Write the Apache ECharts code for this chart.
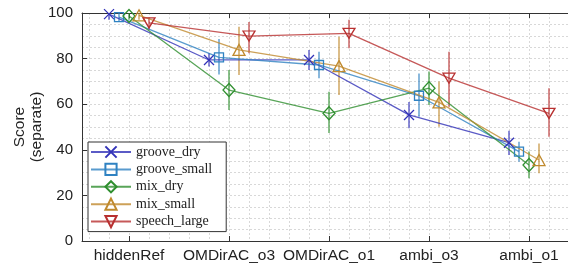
<!DOCTYPE html>
<html>
<head>
<meta charset="utf-8">
<script src="https://cdn.jsdelivr.net/npm/echarts@6/dist/echarts.min.js"></script>
<style>
  html, body { margin: 0; padding: 0; background: #fff; }
  #mycharts { width: 568px; height: 264px; }
</style>
</head>
<body>
<div id="mycharts"></div>
<script>
// categories on the x axis
var categories = ["hiddenRef", "OMDirAC_o3", "OMDirAC_o1", "ambi_o3", "ambi_o1"];
var seriesNames = ["groove_dry", "groove_small", "mix_dry", "mix_small", "speech_large"];

// mean scores per condition
var grooveDry = [99.5, 79.4, 79.4, 55.3, 43.1];
var grooveSmall = [98.2, 80.5, 77.2, 63.7, 39.2];
var mixDry = [98.7, 66.2, 56.0, 67.0, 33.3];
var mixSmall = [99.0, 83.8, 76.7, 60.8, 35.5];
var speechLarge = [95.7, 89.9, 91.1, 71.4, 56.0];

// confidence intervals: lower / upper ends
var grooveDryLow = [97.0, 76.5, 75.0, 49.4, 37.7];
var grooveDryHigh = [100, 82.5, 83.8, 61.0, 48.4];
var grooveSmallLow = [96.0, 73.0, 71.4, 54.5, 34.8];
var grooveSmallHigh = [100, 88.6, 83.0, 73.5, 43.5];
var mixDryLow = [97.0, 57.5, 47.4, 59.6, 27.5];
var mixDryHigh = [100, 75.0, 65.5, 74.3, 39.2];
var mixSmallLow = [97.0, 72.8, 64.0, 50.1, 29.7];
var mixSmallHigh = [100, 94.0, 89.6, 70.0, 42.8];
var speechLargeLow = [92.5, 82.3, 84.5, 58.9, 45.7];
var speechLargeHigh = [98.0, 96.0, 97.0, 83.0, 67.0];

var yTicks = [0, 20, 40, 60, 80, 100];

var means = [grooveDry, grooveSmall, mixDry, mixSmall, speechLarge];
var lows = [grooveDryLow, grooveSmallLow, mixDryLow, mixSmallLow, speechLargeLow];
var highs = [grooveDryHigh, grooveSmallHigh, mixDryHigh, mixSmallHigh, speechLargeHigh];

var colors = ["#3232b8", "#2f82c2", "#2f8f2f", "#c08a2e", "#b83030"];
var symbols = [
  "path://M0,0L10,10M0,10L10,0",
  "path://M0,0L10,0L10,10L0,10Z",
  "path://M5,0L10,5L5,10L0,5Z",
  "path://M5,0L10,9L0,9Z",
  "path://M0,0L10,0L5,9Z"
];
var symbolSizes = [[10, 10], [9, 9], [12, 13], [12, 11], [12, 10]];
var offsets = [-0.2, -0.1, 0, 0.1, 0.2];

var series = [];
// error bars first so lines and markers sit on top
seriesNames.forEach(function (name, s) {
  series.push({
    type: "custom",
    name: name + "_err",
    silent: true,
    data: categories.map(function (c, i) {
      return [i + 1 + offsets[s], lows[s][i], highs[s][i]];
    }),
    renderItem: function (params, api) {
      var p1 = api.coord([api.value(0), api.value(1)]);
      var p2 = api.coord([api.value(0), api.value(2)]);
      return {
        type: "line",
        shape: { x1: p1[0], y1: p1[1], x2: p2[0], y2: p2[1] },
        style: { stroke: colors[s], lineWidth: 1.5, opacity: 0.75 }
      };
    },
    z: 2
  });
});
seriesNames.forEach(function (name, s) {
  series.push({
    type: "line",
    name: name,
    data: categories.map(function (c, i) {
      return [i + 1 + offsets[s], means[s][i]];
    }),
    symbol: symbols[s],
    symbolSize: symbolSizes[s],
    lineStyle: { color: colors[s], width: 1.3, opacity: 0.8 },
    itemStyle: { color: "rgba(255,255,255,0)", borderColor: colors[s], borderWidth: 1.3 },
    z: 3
  });
});

var gridLine = { show: true, lineStyle: { color: "#d8d8d8", type: [2, 2], width: 1 } };
var axisLine = { show: true, lineStyle: { color: "#333", width: 1 } };

var myCharts = echarts.init(document.getElementById("mycharts"), null, { renderer: "canvas" });
var option = {
  animation: false,
  grid: { left: 82, right: 0, top: 13, bottom: 23, containLabel: false, outerBoundsMode: "none" },
  legend: {
    data: seriesNames,
    orient: "vertical",
    left: 88,
    top: 142,
    width: 139,
    itemWidth: 40,
    itemHeight: 14,
    itemGap: 3.4,
    padding: [3, 14, 3, 2],
    backgroundColor: "#fff",
    borderColor: "#333",
    borderWidth: 1,
    textStyle: { fontFamily: "Liberation Serif", fontSize: 14, color: "#222" }
  },
  xAxis: [
    {
      type: "value",
      min: 0.53,
      max: 5.39,
      minInterval: 1,
      maxInterval: 1,
      axisLine: axisLine,
      axisTick: { show: true, inside: true, length: 5, lineStyle: { color: "#333" } },
      axisLabel: {
        margin: 7,
        fontFamily: "Liberation Sans",
        fontSize: 15.5,
        color: "#222",
        showMinLabel: false,
        showMaxLabel: false,
        formatter: function (v) {
          return Number.isInteger(v) ? categories[v - 1] : "";
        }
      },
      splitLine: gridLine,
      minorTick: { show: false, splitNumber: 5 },
      minorSplitLine: gridLine
    },
    {
      type: "value",
      position: "top",
      min: 0.53,
      max: 5.39,
      minInterval: 1,
      maxInterval: 1,
      axisLine: axisLine,
      axisTick: { show: true, inside: true, length: 5, lineStyle: { color: "#333" } },
      axisLabel: { show: false },
      splitLine: { show: false }
    }
  ],
  yAxis: {
    type: "value",
    min: yTicks[0],
    max: yTicks[yTicks.length - 1],
    interval: 20,
    name: "Score\n(separate)",
    nameLocation: "middle",
    nameRotate: 90,
    nameGap: 36.5,
    nameMoveOverlap: false,
    nameTextStyle: { fontFamily: "Liberation Sans", fontSize: 15.5, color: "#222", lineHeight: 17 },
    axisLine: axisLine,
    axisTick: { show: true, inside: true, length: 5, lineStyle: { color: "#333" } },
    axisLabel: { margin: 9, fontFamily: "Liberation Sans", fontSize: 15, color: "#222" },
    splitLine: gridLine,
    minorTick: { show: false, splitNumber: 4 },
    minorSplitLine: gridLine
  },
  series: series
};
myCharts.setOption(option);
</script>
</body>
</html>
